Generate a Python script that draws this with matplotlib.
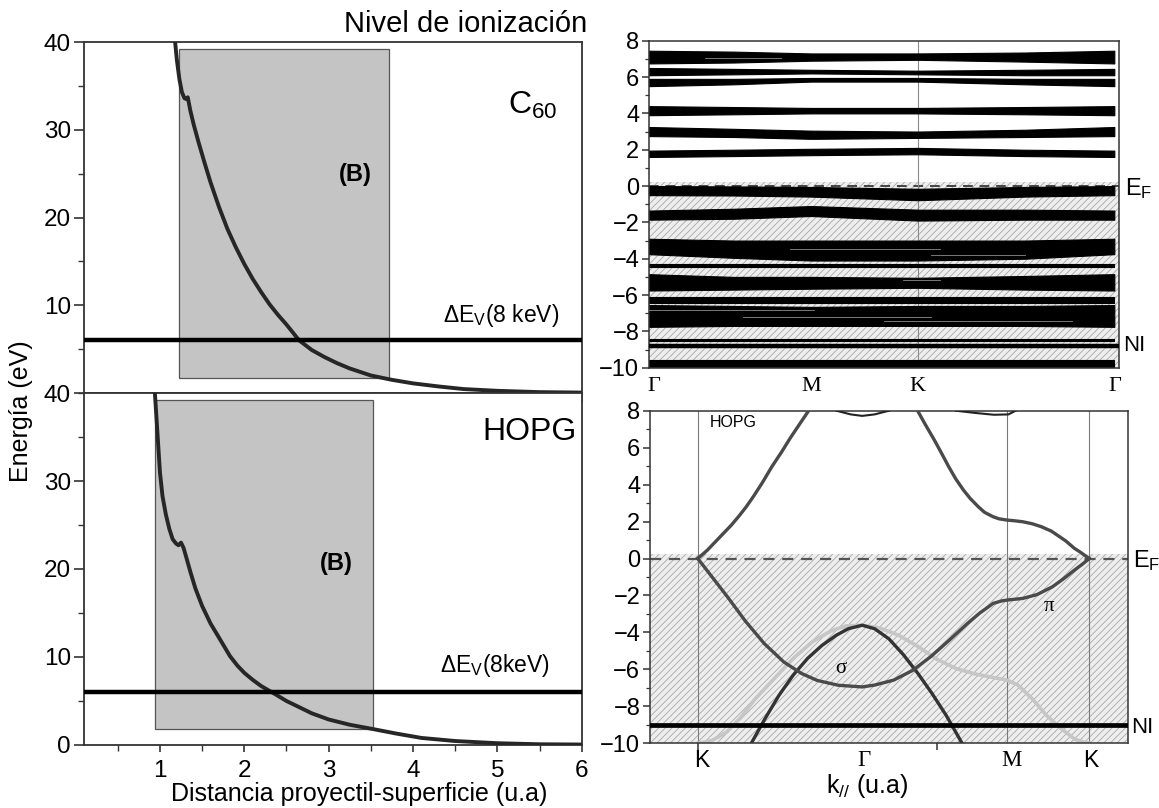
import matplotlib
matplotlib.use("Agg")
import matplotlib.pyplot as plt
from matplotlib.patches import Rectangle
from matplotlib.ticker import MultipleLocator

plt.rcParams['font.family'] = ['Liberation Sans', 'DejaVu Sans']
plt.rcParams['mathtext.default'] = 'regular'
plt.rcParams['hatch.linewidth'] = 0.6

# ------------------------------------
# Left panels: energy vs projectile-surface distance
# ------------------------------------
c60_dist = [1.18, 1.20, 1.23, 1.26, 1.29, 1.31, 1.33, 1.36, 1.40, 1.46, 1.53, 1.60, 1.70,
            1.80, 1.90, 2.00, 2.10, 2.20, 2.30, 2.40, 2.50, 2.65, 2.80, 2.95, 3.10, 3.25,
            3.50, 3.75, 4.00, 4.30, 4.60, 5.00, 5.50, 6.00]
c60_energy = [40, 38, 35.8, 34.3, 33.6, 33.5, 33.7, 32.2, 30.6, 28.5, 26.2, 24.0, 21.2,
              18.7, 16.6, 14.7, 13.0, 11.5, 10.1, 8.9, 7.8, 6.0, 4.9, 4.1, 3.4, 2.8,
              2.0, 1.5, 1.1, 0.75, 0.45, 0.25, 0.1, 0.05]
hopg_dist = [0.94, 0.96, 0.98, 1.00, 1.03, 1.07, 1.11, 1.15, 1.19, 1.22, 1.25, 1.28, 1.31,
             1.36, 1.42, 1.50, 1.60, 1.70, 1.83, 1.92, 2.00, 2.10, 2.20, 2.37, 2.50, 2.65,
             2.80, 3.00, 3.25, 3.53, 3.80, 4.10, 4.50, 5.00, 5.50, 6.00]
hopg_energy = [40, 37, 34, 31, 28.3, 26.2, 24.6, 23.4, 22.9, 22.7, 23.0, 22.4, 21.4,
               19.7, 17.8, 15.8, 13.8, 12.2, 10.1, 9.0, 8.2, 7.4, 6.7, 5.75, 5.0, 4.3,
               3.6, 2.9, 2.3, 1.8, 1.3, 0.8, 0.45, 0.2, 0.08, 0.05]
# region (B): distance range and energy range
c60_region_x = [1.22, 3.72]
c60_region_y = [1.7, 39.2]
hopg_region_x = [0.94, 3.52]
hopg_region_y = [1.85, 39.2]
dEv_8keV = 6.0

# ------------------------------------
# Top right: C60 band structure (bands as filled energy ranges)
# ------------------------------------
k_c60 = [0.0, 0.18, 0.345, 0.572, 0.80, 0.99]
c60_band_lo = [
    [6.75, 6.80, 6.90, 6.95, 6.85, 6.75],
    [6.10, 6.15, 6.20, 6.15, 6.10, 6.10],
    [5.50, 5.60, 5.75, 5.75, 5.60, 5.50],
    [3.90, 3.95, 4.00, 4.00, 3.95, 3.90],
    [2.75, 2.70, 2.60, 2.65, 2.70, 2.75],
    [1.60, 1.65, 1.70, 1.75, 1.65, 1.60],
    [-0.50, -0.52, -0.58, -0.78, -0.58, -0.50],
    [-1.85, -1.80, -1.65, -1.90, -1.85, -1.85],
    [-3.75, -3.95, -4.10, -4.10, -4.00, -3.75],
    [-4.45, -4.45, -4.45, -4.45, -4.45, -4.45],
    [-5.75, -5.70, -5.65, -5.60, -5.70, -5.75],
    [-6.45, -6.45, -6.45, -6.45, -6.45, -6.45],
    [-7.75, -7.70, -7.70, -7.70, -7.70, -7.75],
    [-8.55, -8.55, -8.55, -8.55, -8.55, -8.55],
    [-9.95, -9.95, -9.95, -9.95, -9.95, -9.95],
]
c60_band_hi = [
    [7.45, 7.40, 7.30, 7.30, 7.35, 7.45],
    [6.50, 6.45, 6.40, 6.35, 6.40, 6.45],
    [5.90, 5.90, 5.95, 5.95, 5.90, 5.90],
    [4.40, 4.35, 4.30, 4.30, 4.35, 4.40],
    [3.25, 3.15, 3.05, 3.00, 3.10, 3.25],
    [1.95, 2.00, 2.05, 2.10, 2.00, 1.95],
    [0.00, -0.02, -0.05, -0.15, -0.05, 0.00],
    [-1.35, -1.25, -1.10, -1.30, -1.30, -1.35],
    [-2.90, -3.00, -3.00, -3.00, -3.00, -2.90],
    [-4.30, -4.30, -4.30, -4.30, -4.30, -4.30],
    [-4.85, -5.00, -5.00, -5.05, -4.95, -4.85],
    [-6.10, -6.10, -6.10, -6.10, -6.10, -6.10],
    [-6.55, -6.60, -6.65, -6.60, -6.60, -6.55],
    [-8.40, -8.40, -8.40, -8.40, -8.40, -8.40],
    [-9.60, -9.60, -9.60, -9.60, -9.60, -9.60],
]
# thin lighter sub-bands inside the black groups: (energy, k from, k to)
c60_gap_levels = [7.05, -3.45, -3.8, -6.8, -7.2, -7.45, -5.15]
c60_gap_k0 = [0.12, 0.30, 0.60, 0.00, 0.20, 0.50, 0.54]
c60_gap_k1 = [0.28, 0.62, 0.80, 0.35, 0.60, 0.90, 0.62]
c60_NI = -8.8
c60_kpoints = [0.0, 0.345, 0.572, 1.0]
c60_klabels = ['\u0393', 'M', 'K', '\u0393']

# ------------------------------------
# Bottom right: HOPG band structure
# ------------------------------------
k_pistar_a = [0.100, 0.120, 0.147, 0.170, 0.185, 0.200, 0.216, 0.235, 0.255, 0.275, 0.293, 0.315, 0.332]
e_pistar_a = [0.0, 0.45, 1.18, 1.80, 2.26, 2.75, 3.34, 4.10, 4.97, 5.75, 6.50, 7.35, 8.0]
k_pistar_b = [0.560, 0.575, 0.595, 0.610, 0.625, 0.640, 0.656, 0.670, 0.687, 0.700, 0.718, 0.730,
              0.747, 0.760, 0.780, 0.800, 0.819, 0.840, 0.857, 0.870, 0.888, 0.900, 0.919]
e_pistar_b = [8.0, 7.30, 6.41, 5.70, 4.97, 4.30, 3.70, 3.25, 2.80, 2.50, 2.26, 2.15,
              2.08, 2.05, 1.99, 1.88, 1.72, 1.48, 1.18, 0.95, 0.55, 0.35, 0.0]
k_pi = [0.100, 0.130, 0.162, 0.200, 0.239, 0.280, 0.317, 0.350, 0.394, 0.444, 0.470, 0.510, 0.550,
        0.587, 0.625, 0.664, 0.690, 0.718, 0.735, 0.747, 0.780, 0.810, 0.842, 0.865, 0.888, 0.905, 0.919]
e_pi = [0.0, -1.0, -2.07, -3.40, -4.60, -5.60, -6.22, -6.60, -6.86, -6.95, -6.85, -6.58, -6.05,
        -5.32, -4.45, -3.52, -2.95, -2.43, -2.30, -2.25, -2.16, -1.95, -1.53, -1.10, -0.63, -0.30, 0.0]
k_sigma_dark = [0.212, 0.240, 0.270, 0.300, 0.330, 0.360, 0.390, 0.415, 0.444, 0.470, 0.500,
                0.530, 0.560, 0.590, 0.620, 0.653]
e_sigma_dark = [-10.0, -8.7, -7.4, -6.3, -5.4, -4.7, -4.15, -3.8, -3.61, -3.8, -4.35,
                -5.2, -6.2, -7.3, -8.5, -10.0]
k_sigma_light = [0.100, 0.130, 0.160, 0.190, 0.220, 0.260, 0.300, 0.340, 0.380, 0.410, 0.444, 0.480,
                 0.520, 0.560, 0.600, 0.640, 0.680, 0.720, 0.747, 0.770, 0.800, 0.830, 0.860, 0.890, 0.919]
e_sigma_light = [-10.0, -9.85, -9.4, -8.6, -7.6, -6.5, -5.4, -4.5, -3.9, -3.65, -3.61, -3.75,
                 -4.15, -4.75, -5.45, -5.95, -6.25, -6.45, -6.58, -6.85, -7.6, -8.5, -9.2, -9.8, -10.0]
k_sstar_a = [0.39, 0.42, 0.444, 0.47, 0.50]
e_sstar_a = [8.0, 7.80, 7.72, 7.80, 8.0]
k_sstar_b = [0.64, 0.68, 0.72, 0.75, 0.765]
e_sstar_b = [8.0, 7.88, 7.78, 7.80, 8.0]
hopg_NI = -9.0
hopg_kpoints = [0.100, 0.444, 0.747, 0.919]
hopg_klabels = ['K', '\u0393', 'M', 'K']
hopg_klabel_pos = [0.108, 0.448, 0.757, 0.923]

occupied_top = 0.24

fig = plt.figure(figsize=(11.59, 8.08), dpi=100)

spine_c = '#333333'


def style_axes(ax, lw=1.3):
    for s in ax.spines.values():
        s.set_linewidth(lw)
        s.set_color(spine_c)


# ---- left panels: C60 (top) and HOPG (bottom) ----
ax1 = fig.add_axes([0.0725, 0.5136, 0.4294, 0.4344])
ax2 = fig.add_axes([0.0725, 0.078, 0.4294, 0.4356])
for ax, dist, en, rx, ry in [(ax1, c60_dist, c60_energy, c60_region_x, c60_region_y),
                             (ax2, hopg_dist, hopg_energy, hopg_region_x, hopg_region_y)]:
    ax.add_patch(Rectangle((rx[0], ry[0]), rx[1] - rx[0], ry[1] - ry[0],
                           facecolor='#c4c4c4', edgecolor='#555555', linewidth=0.9, zorder=1))
    ax.plot(dist, en, color='#262626', linewidth=2.8, zorder=3, solid_joinstyle='round')
    ax.axhline(dEv_8keV, color='black', linewidth=3.2, zorder=4)
    ax.set_xlim(0.1, 6)
    ax.set_ylim(0, 40)
    ax.xaxis.set_major_locator(MultipleLocator(1))
    ax.xaxis.set_minor_locator(MultipleLocator(0.5))
    ax.yaxis.set_major_locator(MultipleLocator(10))
    ax.yaxis.set_minor_locator(MultipleLocator(5))
    ax.tick_params(which='major', direction='out', length=7, width=1.2, labelsize=17.5, pad=2.5, color=spine_c)
    ax.tick_params(which='minor', direction='out', length=4, width=1.0, color=spine_c)
    style_axes(ax)

ax1.set_yticks([10, 20, 30, 40])
ax1.tick_params(axis='x', labelbottom=False)
ax2.set_xticks([1, 2, 3, 4, 5, 6])
ax2.tick_params(axis='x', which='major', length=5, pad=6)

ax1.text(3.32, 24.9, '(B)', fontsize=17, fontweight='bold', ha='center', va='center', zorder=5)
ax2.text(3.09, 20.6, '(B)', fontsize=17, fontweight='bold', ha='center', va='center', zorder=5)
ax1.text(5.42, 32.8, 'C$_{60}$', fontsize=23, ha='center', va='center')
ax2.text(5.38, 35.6, 'HOPG', fontsize=23, ha='center', va='center')
ax1.text(5.04, 8.8, '\u0394E$_V$(8 keV)', fontsize=16.5, ha='center', va='center')
ax2.text(4.97, 9.0, '\u0394E$_V$(8keV)', fontsize=16.5, ha='center', va='center')

fig.text(0.018, 0.491, 'Energía (eV)', rotation=90, fontsize=18, ha='center', va='center')
fig.text(0.310, 0.009, 'Distancia proyectil-superficie (u.a)', fontsize=18, ha='center', va='baseline')
fig.text(0.402, 0.970, 'Nivel de ionización', fontsize=21, ha='center', va='center')

# ---- top-right: C60 bands ----
ax3 = fig.add_axes([0.560, 0.5449, 0.4055, 0.4047])
ax3.fill_between([0, 1], -10, occupied_top, facecolor='#eeeeee', edgecolor='#a8a8a8',
                 hatch='/////', linewidth=0, zorder=0)
ax3.axhline(0, color='#444444', linewidth=1.4, linestyle=(0, (5, 3.5)), zorder=1)
ax3.axvline(c60_kpoints[2], color='#8a8a8a', linewidth=0.8, zorder=1)
for lo, hi in zip(c60_band_lo, c60_band_hi):
    ax3.fill_between(k_c60, lo, hi, facecolor='black', edgecolor='black', linewidth=0.8, zorder=2)
for lev, k0, k1 in zip(c60_gap_levels, c60_gap_k0, c60_gap_k1):
    ax3.plot([k0, k1], [lev, lev], color='#8c8c8c', linewidth=0.6, zorder=3)
ax3.axhline(c60_NI, color='black', linewidth=3.2, zorder=4)
ax3.set_xlim(0, 1)
ax3.set_ylim(-10, 8)
ax3.set_xticks([])
ax3.yaxis.set_major_locator(MultipleLocator(2))
ax3.yaxis.set_minor_locator(MultipleLocator(1))
ax3.tick_params(which='major', direction='out', length=5, width=1.1, labelsize=17, pad=2, color=spine_c)
ax3.tick_params(which='minor', direction='out', length=3, width=0.9, color=spine_c)
style_axes(ax3, 1.1)
for kp, lab in zip(c60_kpoints, c60_klabels):
    xp = min(max(kp, 0.01), 0.99)
    ax3.text(xp, -0.058, lab, transform=ax3.transAxes, fontsize=16,
             family=['Liberation Serif'], ha='center', va='center')
ax3.text(1.012, -0.15, 'E$_F$', transform=ax3.get_yaxis_transform(), fontsize=17, ha='left', va='center')
ax3.text(1.008, c60_NI, 'NI', transform=ax3.get_yaxis_transform(), fontsize=16, ha='left', va='center')

# ---- bottom-right: HOPG bands ----
ax4 = fig.add_axes([0.5608, 0.0801, 0.4124, 0.4116])
ax4.fill_between([0, 1], -10, occupied_top, facecolor='#eeeeee', edgecolor='#a8a8a8',
                 hatch='/////', linewidth=0, zorder=0)
ax4.axhline(0, color='#555555', linewidth=1.6, linestyle=(0, (5, 3.5)), zorder=1)
for kp in [hopg_kpoints[0], hopg_kpoints[2], hopg_kpoints[3]]:
    ax4.axvline(kp, color='#7a7a7a', linewidth=0.8, zorder=1)
ax4.plot(k_sigma_light, e_sigma_light, color='#c6c6c6', linewidth=2.6, zorder=2)
ax4.plot(k_sigma_dark, e_sigma_dark, color='#333333', linewidth=2.4, zorder=3)
ax4.plot(k_pi, e_pi, color='#4a4a4a', linewidth=2.4, zorder=3)
ax4.plot(k_pistar_a, e_pistar_a, color='#4a4a4a', linewidth=2.4, zorder=3)
ax4.plot(k_pistar_b, e_pistar_b, color='#4a4a4a', linewidth=2.4, zorder=3)
ax4.plot(k_sstar_a, e_sstar_a, color='#222222', linewidth=1.5, zorder=3)
ax4.plot(k_sstar_b, e_sstar_b, color='#222222', linewidth=1.5, zorder=3)
ax4.axhline(hopg_NI, color='black', linewidth=3.4, zorder=4)
ax4.set_xlim(0, 1)
ax4.set_ylim(-10, 8)
ax4.set_xticks([hopg_kpoints[0], 0.6])
ax4.set_xticklabels(['', ''])
ax4.yaxis.set_major_locator(MultipleLocator(2))
ax4.yaxis.set_minor_locator(MultipleLocator(1))
ax4.tick_params(which='major', direction='out', length=5, width=1.1, labelsize=17, pad=2, color=spine_c)
ax4.tick_params(which='minor', direction='out', length=3, width=0.9, color=spine_c)
style_axes(ax4, 1.1)
for xp, lab in zip(hopg_klabel_pos, hopg_klabels):
    fam = ['Liberation Sans'] if lab == 'K' else ['Liberation Serif']
    ax4.text(xp, -0.052, lab, transform=ax4.transAxes, fontsize=16.5, family=fam,
             ha='center', va='center')
ax4.text(0.126, 7.35, 'HOPG', fontsize=11.5, ha='left', va='center')
ax4.text(0.40, -5.95, '\u03c3', fontsize=15, family=['Liberation Serif'], ha='center', va='center')
ax4.text(0.834, -2.6, '\u03c0', fontsize=15, family=['Liberation Serif'], ha='center', va='center')
ax4.text(1.010, -0.1, 'E$_F$', transform=ax4.get_yaxis_transform(), fontsize=17, ha='left', va='center')
ax4.text(1.006, hopg_NI - 0.15, 'NI', transform=ax4.get_yaxis_transform(), fontsize=16, ha='left', va='center')
fig.text(0.748, 0.0186, 'k$_{//}$ (u.a)', fontsize=18, ha='center', va='baseline')

plt.savefig('out.png', dpi=100)
